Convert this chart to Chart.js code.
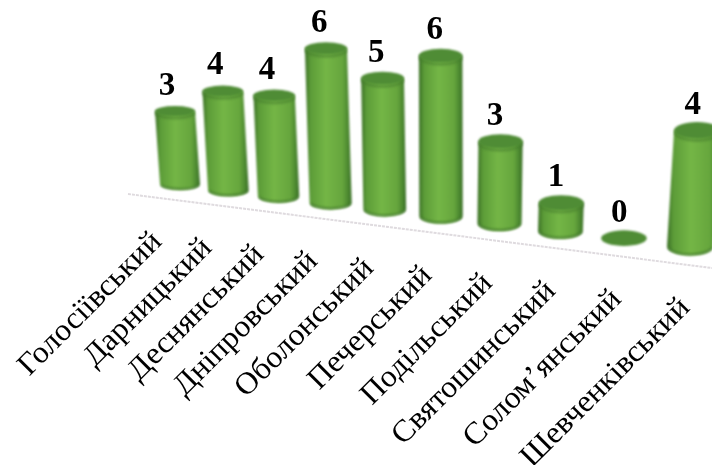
<!DOCTYPE html>
<html>
<head>
<meta charset="utf-8">
<script src="https://cdn.jsdelivr.net/npm/chart.js@4"></script>
<style>
html, body { margin: 0; padding: 0; background: #fff; overflow: hidden; }
#wrap { position: relative; width: 712px; height: 465px; }
</style>
</head>
<body>
<div id="wrap"><canvas id="c" width="712" height="465"></canvas></div>
<script>
const districts = ['Голосіївський', 'Дарницький', 'Деснянський', 'Дніпровський', 'Оболонський', 'Печерський', 'Подільський', 'Святошинський', 'Солом’янський', 'Шевченківський'];
const counts = [3, 4, 4, 6, 5, 6, 3, 1, 0, 4];

const FONT = '"Liberation Serif", "Times New Roman", serif';

// flat chart pixels -> perspective view of the original 3D chart
function depth(fx) { return 1 - 0.000379 * fx; }
function baseX(fx) { return 180 + fx / depth(fx); }
function baseY(fx) { return 184 + 0.122 * (baseX(fx) - 180); }

function drawCylinder(ctx, fx, h, t) {
    const bx = baseX(fx), by = baseY(fx);
    const sh = h / depth(fx);
    const tx = bx + (bx - 450) * sh * 0.000254;
    const ty = by - sh;
    const rx = 20 + 0.35 * t, ry = 5 + 0.35 * t;

    ctx.save();
    ctx.filter = 'blur(1px)';
    if (sh > 1) {
        const g = ctx.createLinearGradient(Math.min(tx, bx) - rx, 0, Math.max(tx, bx) + rx, 0);
        g.addColorStop(0, '#3b7026');
        g.addColorStop(0.12, '#5c9c38');
        g.addColorStop(0.45, '#74b646');
        g.addColorStop(0.8, '#66a63d');
        g.addColorStop(0.93, '#4a862f');
        g.addColorStop(1, '#366a24');
        ctx.fillStyle = g;
        ctx.beginPath();
        ctx.moveTo(tx - rx, ty);
        ctx.lineTo(bx - rx, by);
        ctx.ellipse(bx, by, rx, ry + 1, 0, Math.PI, 0, true);
        ctx.lineTo(tx + rx, ty);
        ctx.closePath();
        ctx.fill();
        // darker rim along the foot
        ctx.strokeStyle = 'rgba(60,115,38,0.6)';
        ctx.lineWidth = 2.5;
        ctx.beginPath();
        ctx.ellipse(bx, by, rx - 1, ry, 0, Math.PI * 0.95, Math.PI * 0.05, true);
        ctx.stroke();
        // shade under the lid
        ctx.strokeStyle = 'rgba(70,125,45,0.5)';
        ctx.lineWidth = 3;
        ctx.beginPath();
        ctx.ellipse(tx, ty + 2, rx - 1, ry, 0, Math.PI, 0, true);
        ctx.stroke();
    }
    ctx.fillStyle = '#4f8c35';
    ctx.beginPath();
    ctx.ellipse(tx, ty, rx, ry, 0, 0, Math.PI * 2);
    ctx.fill();
    ctx.restore();
    return { x: tx, y: ty };
}

const perspectivePlugin = {
    id: 'perspective',
    beforeDatasetDraw(chart, args) {
        const ctx = chart.ctx;
        const xScale = chart.scales.x;
        const x0 = xScale.getPixelForValue(0);
        const bars = chart.getDatasetMeta(args.index).data;

        // floor line in front of the bars
        ctx.save();
        ctx.strokeStyle = '#dfdbdf';
        ctx.lineWidth = 2;
        ctx.setLineDash([3, 1]);
        ctx.beginPath();
        ctx.moveTo(128, 194);
        ctx.lineTo(712, 268);
        ctx.stroke();
        ctx.restore();

        bars.forEach((bar, i) => {
            const fx = bar.x - x0;
            const top = drawCylinder(ctx, fx, bar.base - bar.y, i);
            ctx.save();
            ctx.fillStyle = '#000';
            ctx.font = 'bold 33px ' + FONT;
            ctx.textAlign = 'center';
            ctx.textBaseline = 'middle';
            ctx.fillText(String(counts[i]), top.x - 8 + 0.4 * i, top.y - 25);
            ctx.restore();

            // category label, rotated and anchored at its right end
            const lx = 163 + 1.035 * fx / depth(fx);
            const ly = 243 + 0.125 * (lx - 163);
            ctx.save();
            ctx.translate(lx, ly);
            ctx.rotate(-Math.PI / 4);
            ctx.scale(1.03, 1);
            ctx.fillStyle = '#000';
            ctx.font = '31px ' + FONT;
            ctx.textAlign = 'right';
            ctx.textBaseline = 'alphabetic';
            ctx.fillText(xScale.getLabelForValue(i), 0, 0);
            ctx.restore();
        });
        return false;
    }
};

new Chart(document.getElementById('c'), {
    type: 'bar',
    data: { labels: districts, datasets: [{ data: counts, backgroundColor: '#6aa93f' }] },
    options: {
        responsive: false,
        animation: false,
        layout: { padding: { left: 156.25, right: 80.75, top: 20, bottom: 274.9 } },
        plugins: { legend: { display: false }, tooltip: { enabled: false } },
        scales: {
            x: { display: false },
            y: { display: false, min: 0, max: 7 }
        }
    },
    plugins: [perspectivePlugin]
});
</script>
</body>
</html>
